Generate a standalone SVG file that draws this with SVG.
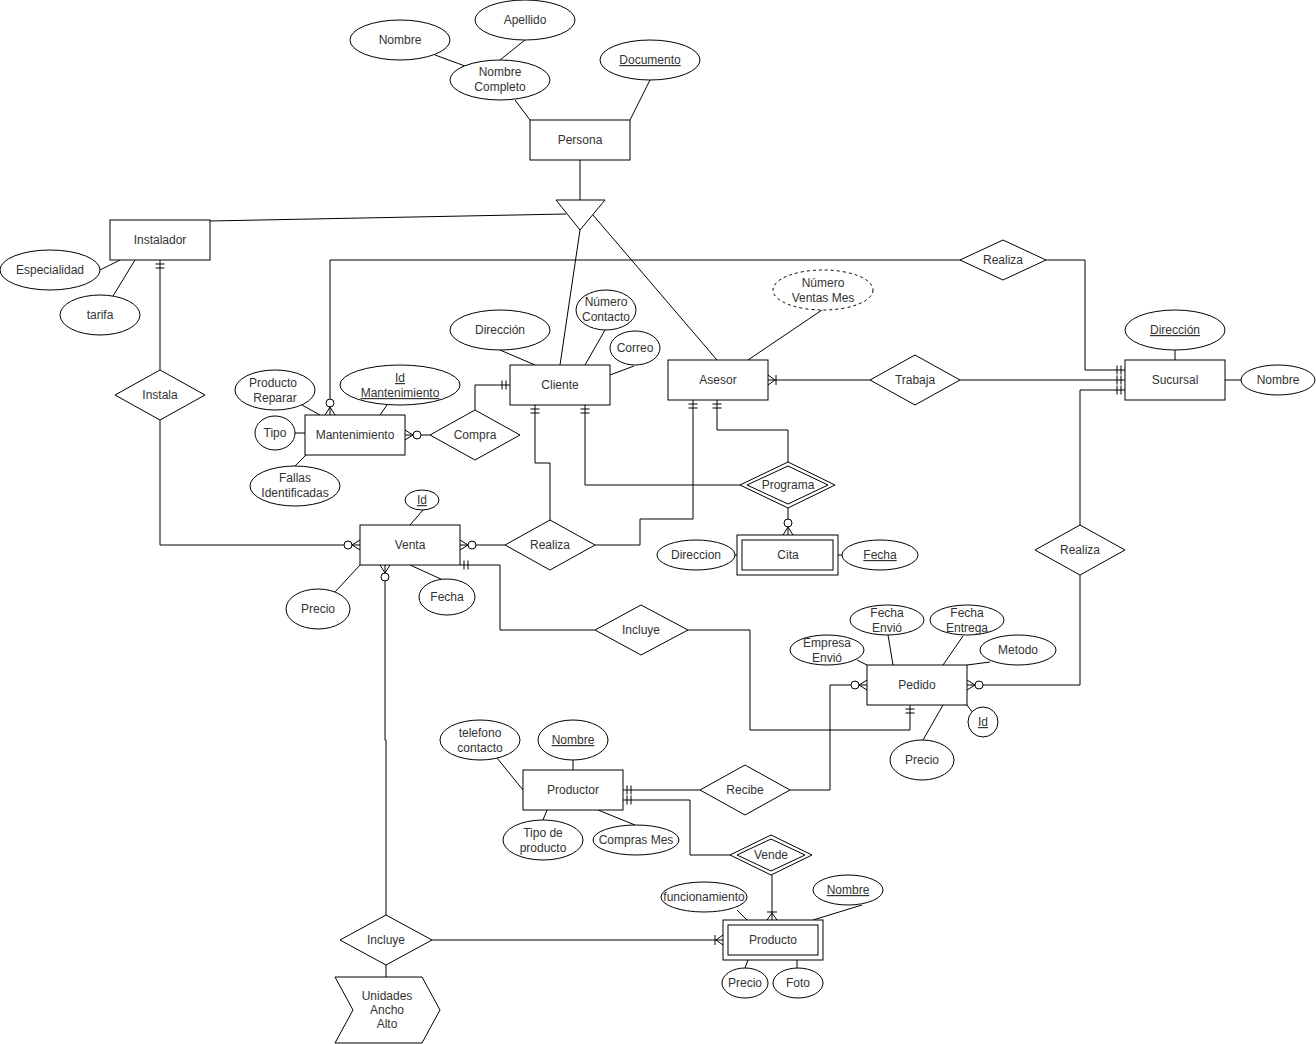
<svg xmlns="http://www.w3.org/2000/svg" width="1316" height="1044" viewBox="0 0 1316 1044">
<style>
.s{fill:#fff;stroke:#000;stroke-width:1}
.d{fill:#fff;stroke:#000;stroke-width:1;stroke-dasharray:3 3}
.l{fill:none;stroke:#000;stroke-width:1}
text{font-family:"Liberation Sans",Arial,sans-serif;font-size:12px;fill:#333;text-anchor:middle}
.u{text-decoration:underline}
</style>
<defs>
<marker id="zm" markerUnits="userSpaceOnUse" markerWidth="24" markerHeight="20" viewBox="0 0 24 20" refX="24" refY="10" orient="auto" overflow="visible">
<path d="M24 5 L16 10 L24 15" fill="none" stroke="#000"/>
<circle cx="12" cy="10" r="4" fill="#fff" stroke="#000"/>
</marker>
<marker id="mo" markerUnits="userSpaceOnUse" markerWidth="24" markerHeight="20" viewBox="0 0 24 20" refX="24" refY="10" orient="auto" overflow="visible">
<path d="M20 5.5 V14.5 M16 5.5 V14.5" fill="none" stroke="#000"/>
</marker>
<marker id="om" markerUnits="userSpaceOnUse" markerWidth="24" markerHeight="20" viewBox="0 0 24 20" refX="24" refY="10" orient="auto" overflow="visible">
<path d="M24 5 L17 10 L24 15 M16 5 V15" fill="none" stroke="#000"/>
</marker>
</defs>

<g id="connectors">
<path class="l" d="M435 55 L465 66"/>
<path class="l" d="M525 40 L500 60"/>
<path class="l" d="M515 100 L530 120"/>
<path class="l" d="M650 80 L630 120"/>
<path class="l" d="M580 160 L580 200"/>
<path class="l" d="M210 221 L566 214"/>
<path class="l" d="M580 230 L560 365"/>
<path class="l" d="M593 215 L717 360"/>
<path class="l" d="M100 270 L120 260"/>
<path class="l" d="M113 296 L135 260"/>
<path class="l" d="M500 350 L535 365"/>
<path class="l" d="M605 330 L585 365"/>
<path class="l" d="M634 366 L610 375"/>
<path class="l" d="M822 310 L748 360"/>
<path class="l" d="M1175 350 L1175 360"/>
<path class="l" d="M1225 380 L1241 380"/>
<path class="l" d="M302 405 L320 415"/>
<path class="l" d="M387 405 L380 415"/>
<path class="l" d="M295 433 L305 433"/>
<path class="l" d="M295 466 L306 455"/>
<path class="l" d="M734 555 L738 555"/>
<path class="l" d="M838 555 L843 555"/>
<path class="l" d="M423 510 L410 525"/>
<path class="l" d="M335 592 L360 565"/>
<path class="l" d="M443 580 L410 565"/>
<path class="l" d="M888 635 L893 665"/>
<path class="l" d="M963 636 L943 665"/>
<path class="l" d="M857 660 L867 665"/>
<path class="l" d="M990 662 L967 665"/>
<path class="l" d="M967 705 L973 713"/>
<path class="l" d="M923 740 L943 705"/>
<path class="l" d="M497 758 L523 790"/>
<path class="l" d="M573 760 L573 770"/>
<path class="l" d="M543 820 L547 810"/>
<path class="l" d="M635 825 L598 810"/>
<path class="l" d="M737 910 L747 920"/>
<path class="l" d="M862 905 L813 920"/>
<path class="l" d="M748 960 L745 968"/>
<path class="l" d="M797 960 L797 968"/>
<path class="l" d="M386 965 L386 978"/>

<path class="l" d="M160 370 L160 260" marker-end="url(#mo)"/>
<path class="l" d="M160 420 L160 545 L360 545" marker-end="url(#zm)"/>
<path class="l" d="M505 545 L460 545" marker-end="url(#zm)"/>
<path class="l" d="M430 435 L405 435" marker-end="url(#zm)"/>
<path class="l" d="M475 410 L475 385 L510 385" marker-end="url(#mo)"/>
<path class="l" d="M960 260 L330 260 L330 415" marker-end="url(#zm)"/>
<path class="l" d="M1046 260 L1085 260 L1085 370 L1125 370" marker-end="url(#mo)"/>
<path class="l" d="M870 380 L768 380" marker-end="url(#om)"/>
<path class="l" d="M960 380 L1125 380" marker-end="url(#mo)"/>
<path class="l" d="M1080 525 L1080 390 L1125 390" marker-end="url(#mo)"/>
<path class="l" d="M550 520 L550 463 L535 463 L535 405" marker-end="url(#mo)"/>
<path class="l" d="M740 485 L585 485 L585 405" marker-end="url(#mo)"/>
<path class="l" d="M595 545 L640 545 L640 519 L693 519 L693 400" marker-end="url(#mo)"/>
<path class="l" d="M788 462 L788 430 L717 430 L717 400" marker-end="url(#mo)"/>
<path class="l" d="M788 508 L788 535" marker-end="url(#zm)"/>
<path class="l" d="M595 630 L500 630 L500 565 L460 565" marker-end="url(#mo)"/>
<path class="l" d="M688 630 L750 630 L750 730 L910 730 L910 705" marker-end="url(#mo)"/>
<path class="l" d="M386 915 L386 740 L385 740 L385 565" marker-end="url(#zm)"/>
<path class="l" d="M432 940 L723 940" marker-end="url(#om)"/>
<path class="l" d="M772 875 L772 920" marker-end="url(#om)"/>
<path class="l" d="M700 790 L623 790" marker-end="url(#mo)"/>
<path class="l" d="M730 855 L690 855 L690 800 L623 800" marker-end="url(#mo)"/>
<path class="l" d="M790 790 L830 790 L830 685 L867 685" marker-end="url(#zm)"/>
<path class="l" d="M1080 575 L1080 685 L967 685" marker-end="url(#zm)"/>
</g>

<g id="nombre"><ellipse class="s" cx="400" cy="40" rx="50" ry="20"/><text x="400" y="44">Nombre</text></g>
<g id="apellido"><ellipse class="s" cx="525" cy="20" rx="50" ry="20"/><text x="525" y="24">Apellido</text></g>
<g id="nombre-completo"><ellipse class="s" cx="500" cy="80" rx="50" ry="20"/><text x="500" y="76">Nombre</text><text x="500" y="91">Completo</text></g>
<g id="documento"><ellipse class="s" cx="650" cy="60" rx="50" ry="20"/><text class="u" x="650" y="64">Documento</text></g>
<g id="persona"><rect class="s" x="530" y="120" width="100" height="40"/><text x="580" y="144">Persona</text></g>
<g id="isa"><polygon class="s" points="556,200 605,200 580,230"/></g>

<g id="instalador"><rect class="s" x="110" y="220" width="100" height="40"/><text x="160" y="244">Instalador</text></g>
<g id="especialidad"><ellipse class="s" cx="50" cy="270" rx="50" ry="20"/><text x="50" y="274">Especialidad</text></g>
<g id="tarifa"><ellipse class="s" cx="100" cy="315" rx="40" ry="20"/><text x="100" y="319">tarifa</text></g>
<g id="instala"><polygon class="s" points="115,395 160,370 205,395 160,420"/><text x="160" y="399">Instala</text></g>

<g id="realiza-top"><polygon class="s" points="960,260 1003,240 1046,260 1003,280"/><text x="1003" y="264">Realiza</text></g>

<g id="cliente"><rect class="s" x="510" y="365" width="100" height="40"/><text x="560" y="389">Cliente</text></g>
<g id="direccion-cliente"><ellipse class="s" cx="500" cy="330" rx="50" ry="20"/><text x="500" y="334">Dirección</text></g>
<g id="numero-contacto"><ellipse class="s" cx="606" cy="310" rx="30" ry="20"/><text x="606" y="306">Número</text><text x="606" y="321">Contacto</text></g>
<g id="correo"><ellipse class="s" cx="635" cy="348" rx="25" ry="17"/><text x="635" y="352">Correo</text></g>

<g id="asesor"><rect class="s" x="668" y="360" width="100" height="40"/><text x="718" y="384">Asesor</text></g>
<g id="numero-ventas"><ellipse class="d" cx="823" cy="290" rx="50" ry="20"/><text x="823" y="287">Número</text><text x="823" y="302">Ventas Mes</text></g>
<g id="trabaja"><polygon class="s" points="870,380 915,355 960,380 915,405"/><text x="915" y="384">Trabaja</text></g>

<g id="sucursal"><rect class="s" x="1125" y="360" width="100" height="40"/><text x="1175" y="384">Sucursal</text></g>
<g id="direccion-sucursal"><ellipse class="s" cx="1175" cy="330" rx="50" ry="20"/><text class="u" x="1175" y="334">Dirección</text></g>
<g id="nombre-sucursal"><ellipse class="s" cx="1278" cy="380" rx="37" ry="15"/><text x="1278" y="384">Nombre</text></g>

<g id="mantenimiento"><rect class="s" x="305" y="415" width="100" height="40"/><text x="355" y="439">Mantenimiento</text></g>
<g id="producto-reparar"><ellipse class="s" cx="275" cy="390" rx="40" ry="20"/><text x="273" y="387">Producto</text><text x="275" y="402">Reparar</text></g>
<g id="id-mantenimiento"><ellipse class="s" cx="400" cy="385" rx="60" ry="20"/><text class="u" x="400" y="382">Id</text><text class="u" x="400" y="397">Mantenimiento</text></g>
<g id="tipo"><ellipse class="s" cx="275" cy="433" rx="20" ry="17"/><text x="275" y="437">Tipo</text></g>
<g id="fallas"><ellipse class="s" cx="295" cy="486" rx="45" ry="20"/><text x="295" y="482">Fallas</text><text x="295" y="497">Identificadas</text></g>
<g id="compra"><polygon class="s" points="430,435 475,410 520,435 475,460"/><text x="475" y="439">Compra</text></g>

<g id="programa"><polygon class="s" points="740,485 788,462 835,485 788,508"/><polygon class="s" points="747,485 788,466 828,485 788,504"/><text x="788" y="489">Programa</text></g>
<g id="cita"><rect class="s" x="737" y="535" width="101" height="40"/><rect class="s" x="742" y="540" width="91" height="30"/><text x="788" y="559">Cita</text></g>
<g id="direccion-cita"><ellipse class="s" cx="696" cy="555" rx="39" ry="15"/><text x="696" y="559">Direccion</text></g>
<g id="fecha-cita"><ellipse class="s" cx="880" cy="555" rx="38" ry="15"/><text class="u" x="880" y="559">Fecha</text></g>

<g id="venta"><rect class="s" x="360" y="525" width="100" height="40"/><text x="410" y="549">Venta</text></g>
<g id="id-venta"><ellipse class="s" cx="422" cy="500" rx="17" ry="10"/><text class="u" x="422" y="504">Id</text></g>
<g id="precio-venta"><ellipse class="s" cx="318" cy="609" rx="32" ry="20"/><text x="318" y="613">Precio</text></g>
<g id="fecha-venta"><ellipse class="s" cx="447" cy="597" rx="28" ry="18"/><text x="447" y="601">Fecha</text></g>
<g id="realiza-venta"><polygon class="s" points="505,545 550,520 595,545 550,570"/><text x="550" y="549">Realiza</text></g>
<g id="incluye-pedido"><polygon class="s" points="595,630 641,605 688,630 641,655"/><text x="641" y="634">Incluye</text></g>

<g id="realiza-pedido"><polygon class="s" points="1035,550 1080,525 1125,550 1080,575"/><text x="1080" y="554">Realiza</text></g>
<g id="pedido"><rect class="s" x="867" y="665" width="100" height="40"/><text x="917" y="689">Pedido</text></g>
<g id="fecha-envio"><ellipse class="s" cx="887" cy="620" rx="37" ry="15"/><text x="887" y="617">Fecha</text><text x="887" y="632">Envió</text></g>
<g id="fecha-entrega"><ellipse class="s" cx="967" cy="620" rx="37" ry="15"/><text x="967" y="617">Fecha</text><text x="967" y="632">Entrega</text></g>
<g id="empresa-envio"><ellipse class="s" cx="827" cy="650" rx="37" ry="15"/><text x="827" y="647">Empresa</text><text x="827" y="662">Envió</text></g>
<g id="metodo"><ellipse class="s" cx="1018" cy="650" rx="38" ry="15"/><text x="1018" y="654">Metodo</text></g>
<g id="id-pedido"><ellipse class="s" cx="983" cy="722" rx="15" ry="15"/><text class="u" x="983" y="726">Id</text></g>
<g id="precio-pedido"><ellipse class="s" cx="922" cy="760" rx="32" ry="20"/><text x="922" y="764">Precio</text></g>

<g id="productor"><rect class="s" x="523" y="770" width="100" height="40"/><text x="573" y="794">Productor</text></g>
<g id="telefono"><ellipse class="s" cx="480" cy="740" rx="40" ry="20"/><text x="480" y="737">telefono</text><text x="480" y="752">contacto</text></g>
<g id="nombre-productor"><ellipse class="s" cx="573" cy="740" rx="35" ry="20"/><text class="u" x="573" y="744">Nombre</text></g>
<g id="tipo-producto"><ellipse class="s" cx="543" cy="840" rx="40" ry="20"/><text x="543" y="837">Tipo de</text><text x="543" y="852">producto</text></g>
<g id="compras-mes"><ellipse class="s" cx="636" cy="840" rx="43" ry="15"/><text x="636" y="844">Compras Mes</text></g>
<g id="recibe"><polygon class="s" points="700,790 745,765 790,790 745,815"/><text x="745" y="794">Recibe</text></g>
<g id="vende"><polygon class="s" points="730,855 771,835 812,855 771,875"/><polygon class="s" points="737,855 771,839 805,855 771,871"/><text x="771" y="859">Vende</text></g>

<g id="producto"><rect class="s" x="723" y="920" width="100" height="40"/><rect class="s" x="728" y="925" width="90" height="30"/><text x="773" y="944">Producto</text></g>
<g id="funcionamiento"><ellipse class="s" cx="704" cy="897" rx="43" ry="15"/><text x="704" y="901">funcionamiento</text></g>
<g id="nombre-producto"><ellipse class="s" cx="848" cy="890" rx="35" ry="15"/><text class="u" x="848" y="894">Nombre</text></g>
<g id="precio-producto"><ellipse class="s" cx="745" cy="983" rx="23" ry="15"/><text x="745" y="987">Precio</text></g>
<g id="foto"><ellipse class="s" cx="798" cy="983" rx="25" ry="15"/><text x="798" y="987">Foto</text></g>

<g id="incluye-producto"><polygon class="s" points="340,940 386,915 432,940 386,965"/><text x="386" y="944">Incluye</text></g>
<g id="unidades"><polygon class="s" points="335,977 422,977 440,1010 422,1043 335,1043 353,1010"/><text x="387" y="1000">Unidades</text><text x="387" y="1014">Ancho</text><text x="387" y="1028">Alto</text></g>
</svg>
